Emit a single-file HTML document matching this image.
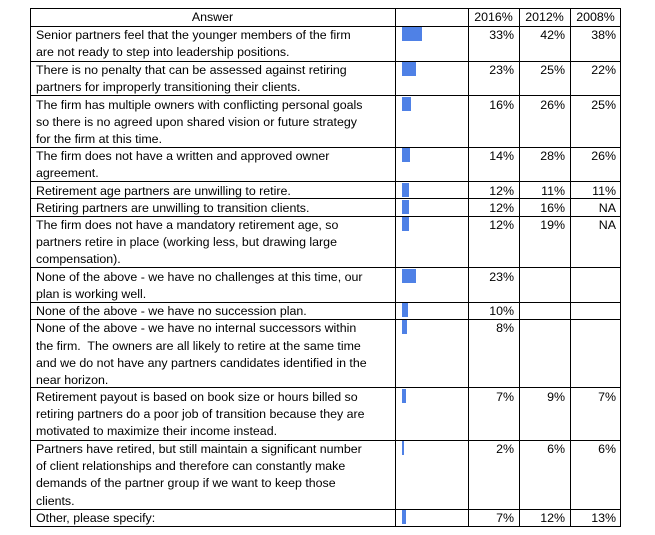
<!DOCTYPE html>
<html><head><meta charset="utf-8"><style>
body{margin:0;background:#fff;width:655px;height:535px;overflow:hidden;position:relative;font-family:"Liberation Sans",sans-serif;font-size:12.4px;color:#000}
.v{position:absolute;width:1px;background:#000;top:8px;height:519px}
.h{position:absolute;height:1px;background:#000;left:30px;width:591px}
.t{position:absolute;left:36px;white-space:nowrap;line-height:17.2px}
.n{position:absolute;width:44px;text-align:right;line-height:17.2px}
.b{position:absolute;left:402px;height:14px;background:#4f81e6}
.c{position:absolute;line-height:17px;text-align:center}
</style></head><body>
<div class="v" style="left:30px"></div><div class="v" style="left:395px"></div><div class="v" style="left:468px"></div><div class="v" style="left:519px"></div><div class="v" style="left:570px"></div><div class="v" style="left:620px"></div>
<div class="h" style="top:8px"></div><div class="h" style="top:26px"></div>
<div class="h" style="top:61px"></div><div class="h" style="top:95px"></div><div class="h" style="top:147px"></div><div class="h" style="top:181px"></div><div class="h" style="top:198px"></div><div class="h" style="top:216px"></div><div class="h" style="top:267px"></div><div class="h" style="top:302px"></div><div class="h" style="top:319px"></div><div class="h" style="top:387px"></div><div class="h" style="top:440px"></div><div class="h" style="top:509px"></div><div class="h" style="top:526px"></div>
<div class="c" style="left:30px;width:365px;top:9px">Answer</div>
<div class="c" style="left:468px;width:51px;top:9px">2016%</div>
<div class="c" style="left:519px;width:51px;top:9px">2012%</div>
<div class="c" style="left:570px;width:51px;top:9px">2008%</div>

<div class="t" style="top:27px">Senior partners feel that the younger members of the firm<br>are not ready to step into leadership positions.</div>
<div class="b" style="top:27px;width:20px"></div>
<div class="n" style="left:470px;top:27px">33%</div><div class="n" style="left:521px;top:27px">42%</div><div class="n" style="left:572px;top:27px">38%</div>

<div class="t" style="top:62px">There is no penalty that can be assessed against retiring<br>partners for improperly transitioning their clients.</div>
<div class="b" style="top:62px;width:14px"></div>
<div class="n" style="left:470px;top:62px">23%</div><div class="n" style="left:521px;top:62px">25%</div><div class="n" style="left:572px;top:62px">22%</div>

<div class="t" style="top:96.5px">The firm has multiple owners with conflicting personal goals<br>so there is no agreed upon shared vision or future strategy<br>for the firm at this time.</div>
<div class="b" style="top:96.5px;width:9px"></div>
<div class="n" style="left:470px;top:96.5px">16%</div><div class="n" style="left:521px;top:96.5px">26%</div><div class="n" style="left:572px;top:96.5px">25%</div>

<div class="t" style="top:148px">The firm does not have a written and approved owner<br>agreement.</div>
<div class="b" style="top:148px;width:8px"></div>
<div class="n" style="left:470px;top:148px">14%</div><div class="n" style="left:521px;top:148px">28%</div><div class="n" style="left:572px;top:148px">26%</div>

<div class="t" style="top:182.5px">Retirement age partners are unwilling to retire.</div>
<div class="b" style="top:182.5px;width:7px"></div>
<div class="n" style="left:470px;top:182.5px">12%</div><div class="n" style="left:521px;top:182.5px">11%</div><div class="n" style="left:572px;top:182.5px">11%</div>

<div class="t" style="top:199.7px">Retiring partners are unwilling to transition clients.</div>
<div class="b" style="top:199.7px;width:7px"></div>
<div class="n" style="left:470px;top:199.7px">12%</div><div class="n" style="left:521px;top:199.7px">16%</div><div class="n" style="left:572px;top:199.7px">NA</div>

<div class="t" style="top:217px">The firm does not have a mandatory retirement age, so<br>partners retire in place (working less, but drawing large<br>compensation).</div>
<div class="b" style="top:217px;width:7px"></div>
<div class="n" style="left:470px;top:217px">12%</div><div class="n" style="left:521px;top:217px">19%</div><div class="n" style="left:572px;top:217px">NA</div>

<div class="t" style="top:268.7px">None of the above - we have no challenges at this time, our<br>plan is working well.</div>
<div class="b" style="top:268.7px;width:14px"></div>
<div class="n" style="left:470px;top:268.7px">23%</div>

<div class="t" style="top:303px">None of the above - we have no succession plan.</div>
<div class="b" style="top:303px;width:6px"></div>
<div class="n" style="left:470px;top:303px">10%</div>

<div class="t" style="top:320.3px">None of the above - we have no internal successors within<br>the firm.&nbsp; The owners are all likely to retire at the same time<br>and we do not have any partners candidates identified in the<br>near horizon.</div>
<div class="b" style="top:320.3px;width:5px"></div>
<div class="n" style="left:470px;top:320.3px">8%</div>

<div class="t" style="top:388.5px">Retirement payout is based on book size or hours billed so<br>retiring partners do a poor job of transition because they are<br>motivated to maximize their income instead.</div>
<div class="b" style="top:388.5px;width:4px"></div>
<div class="n" style="left:470px;top:388.5px">7%</div><div class="n" style="left:521px;top:388.5px">9%</div><div class="n" style="left:572px;top:388.5px">7%</div>

<div class="t" style="top:441px">Partners have retired, but still maintain a significant number<br>of client relationships and therefore can constantly make<br>demands of the partner group if we want to keep those<br>clients.</div>
<div class="b" style="top:441px;width:2px"></div>
<div class="n" style="left:470px;top:441px">2%</div><div class="n" style="left:521px;top:441px">6%</div><div class="n" style="left:572px;top:441px">6%</div>

<div class="t" style="top:509.5px">Other, please specify:</div>
<div class="b" style="top:510px;width:4px"></div>
<div class="n" style="left:470px;top:509.5px">7%</div><div class="n" style="left:521px;top:509.5px">12%</div><div class="n" style="left:572px;top:509.5px">13%</div>
</body></html>
